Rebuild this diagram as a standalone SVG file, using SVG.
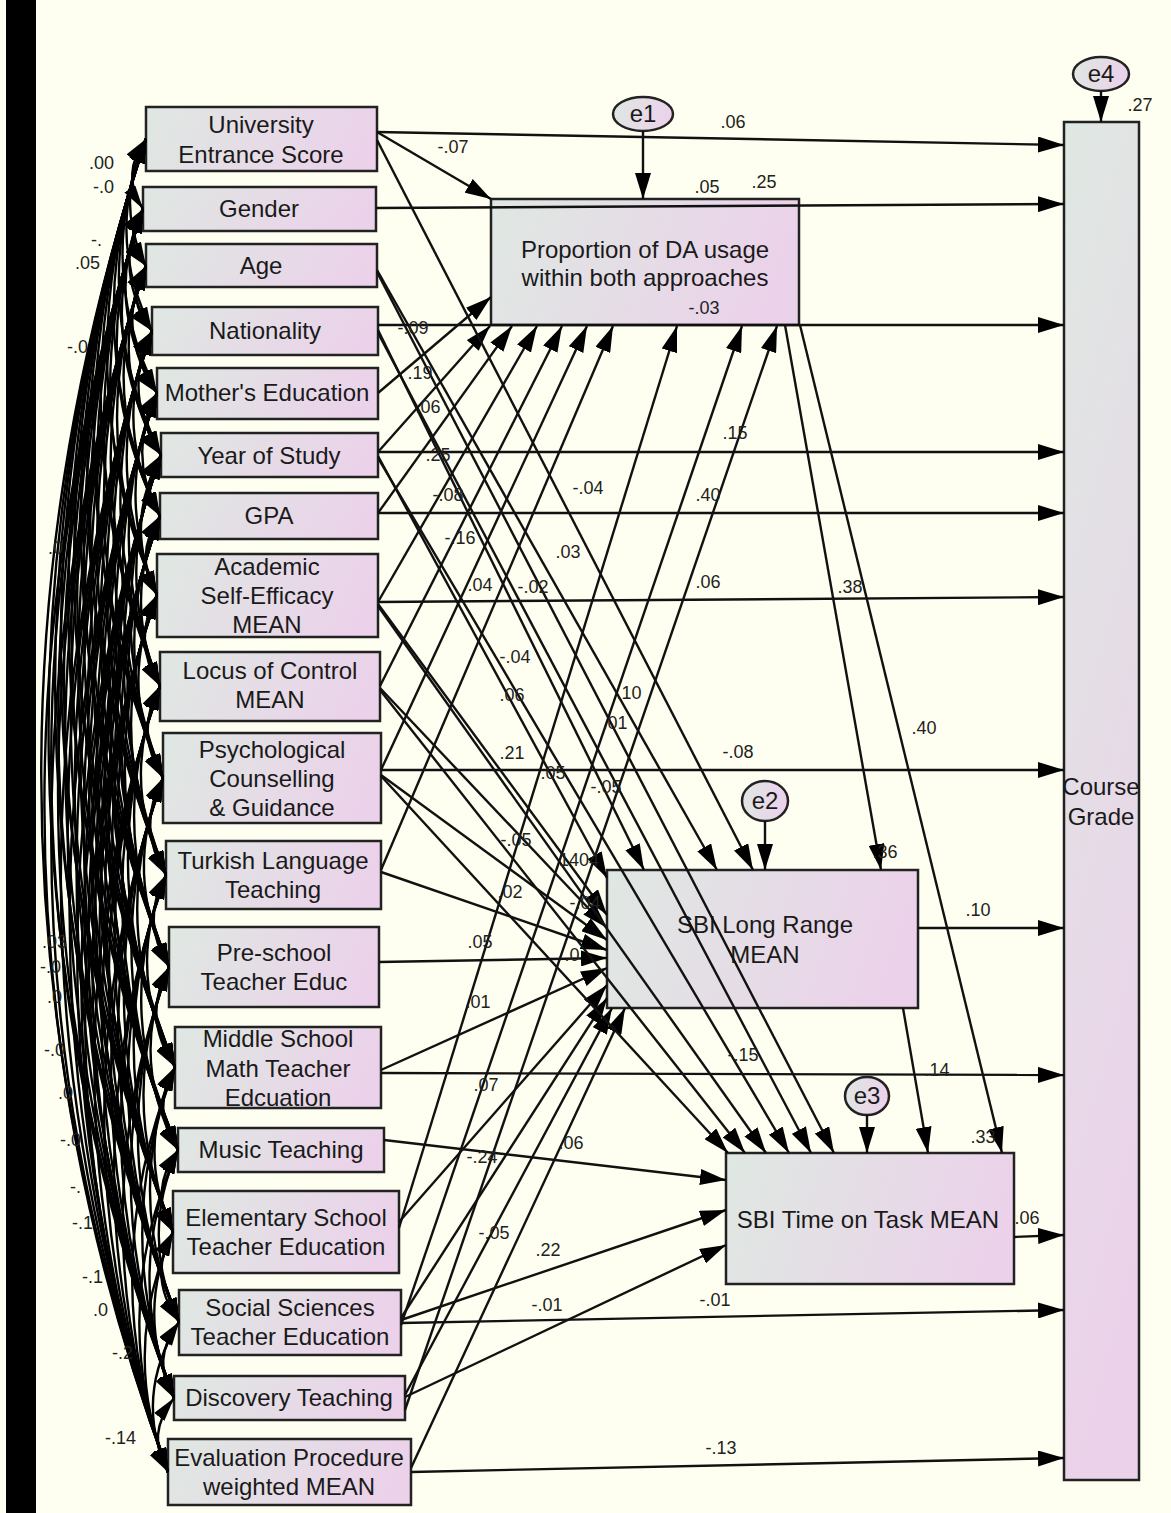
<svg xmlns="http://www.w3.org/2000/svg" width="1171" height="1513" viewBox="0 0 1171 1513">
<defs>
<linearGradient id="g" x1="0" y1="0" x2="1" y2="0.15"><stop offset="0" stop-color="#dfe8e2"/><stop offset="1" stop-color="#ebd2ea"/></linearGradient>
<linearGradient id="gv" x1="0" y1="0" x2="0.2" y2="1"><stop offset="0" stop-color="#dfe8e2"/><stop offset="1" stop-color="#ebd2ea"/></linearGradient>
<marker id="a" viewBox="0 0 26 16" refX="26" refY="8" markerWidth="26" markerHeight="16" markerUnits="userSpaceOnUse" orient="auto"><path d="M0,0 L26,8 L0,16 z" fill="#000"/></marker>
<marker id="c" viewBox="0 0 24 13" refX="24" refY="6.5" markerWidth="24" markerHeight="13" markerUnits="userSpaceOnUse" orient="auto-start-reverse"><path d="M0,0 L24,6.5 L0,13 z" fill="#000"/></marker>
</defs>
<style>
.n rect,.n ellipse{fill:url(#g);stroke:#222;stroke-width:2.5}
.n text{font-family:"Liberation Sans",Arial,sans-serif;font-size:24px;fill:#1a1a1a;text-anchor:middle}
.cv path{fill:none;stroke:#000;stroke-width:2.4;marker-start:url(#c);marker-end:url(#c)}
.ln line{stroke:#111;stroke-width:2.4;marker-end:url(#a)}
.lb text{font-family:"Liberation Sans",Arial,sans-serif;font-size:18px;fill:#222;text-anchor:middle}
.cl text{font-family:"Liberation Sans",Arial,sans-serif;font-size:18px;fill:#222}
</style>
<rect x="0" y="0" width="1171" height="1513" fill="#fefff0"/>
<rect x="6" y="0" width="30" height="1513" fill="#000"/>

<g id="n-ues" class="n"><rect x="146" y="107" width="231" height="64"/><text x="261" y="133">University</text><text x="261" y="163">Entrance Score</text></g>
<g id="n-gender" class="n"><rect x="143" y="187" width="233" height="44"/><text x="259" y="217">Gender</text></g>
<g id="n-age" class="n"><rect x="146" y="244" width="231" height="43"/><text x="261" y="274">Age</text></g>
<g id="n-nationality" class="n"><rect x="152" y="307" width="226" height="48"/><text x="265" y="339">Nationality</text></g>
<g id="n-mother" class="n"><rect x="157" y="368" width="221" height="51"/><text x="267" y="401">Mother's Education</text></g>
<g id="n-year" class="n"><rect x="161" y="433" width="217" height="44"/><text x="269" y="464">Year of Study</text></g>
<g id="n-gpa" class="n"><rect x="160" y="493" width="218" height="46"/><text x="269" y="524">GPA</text></g>
<g id="n-ase" class="n"><rect x="157" y="554" width="221" height="83"/><text x="267" y="575">Academic</text><text x="267" y="604">Self-Efficacy</text><text x="267" y="633">MEAN</text></g>
<g id="n-locus" class="n"><rect x="160" y="652" width="220" height="69"/><text x="270" y="679">Locus of Control</text><text x="270" y="708">MEAN</text></g>
<g id="n-pcg" class="n"><rect x="163" y="733" width="218" height="90"/><text x="272" y="758">Psychological</text><text x="272" y="787">Counselling</text><text x="272" y="816">&amp; Guidance</text></g>
<g id="n-turkish" class="n"><rect x="166" y="841" width="215" height="68"/><text x="273" y="869">Turkish Language</text><text x="273" y="898">Teaching</text></g>
<g id="n-preschool" class="n"><rect x="169" y="927" width="210" height="80"/><text x="274" y="961">Pre-school</text><text x="274" y="990">Teacher Educ</text></g>
<g id="n-middle" class="n"><rect x="175" y="1027" width="206" height="81"/><text x="278" y="1047">Middle School</text><text x="278" y="1077">Math Teacher</text><text x="278" y="1106">Edcuation</text></g>
<g id="n-music" class="n"><rect x="178" y="1128" width="206" height="44"/><text x="281" y="1158">Music Teaching</text></g>
<g id="n-elementary" class="n"><rect x="173" y="1191" width="226" height="82"/><text x="286" y="1226">Elementary School</text><text x="286" y="1255">Teacher Education</text></g>
<g id="n-social" class="n"><rect x="179" y="1290" width="222" height="65"/><text x="290" y="1316">Social Sciences</text><text x="290" y="1345">Teacher Education</text></g>
<g id="n-discovery" class="n"><rect x="174" y="1376" width="231" height="44"/><text x="289" y="1406">Discovery Teaching</text></g>
<g id="n-evaluation" class="n"><rect x="168" y="1439" width="243" height="66"/><text x="289" y="1466">Evaluation Procedure</text><text x="289" y="1495">weighted MEAN</text></g>
<g id="n-da" class="n"><rect x="491" y="199" width="308" height="126"/><text x="645" y="258">Proportion of DA usage</text><text x="645" y="286">within both approaches</text></g>
<g id="n-lr" class="n"><rect x="607" y="870" width="311" height="138"/><text x="765" y="933">SBI Long Range</text><text x="765" y="963">MEAN</text></g>
<g id="n-tot" class="n"><rect x="726" y="1153" width="288" height="131"/><text x="868" y="1228">SBI Time on Task MEAN</text></g>
<g id="n-cg" class="n"><rect x="1064" y="122" width="75" height="1358" style="fill:url(#gv)"/><text x="1101" y="795">Course</text><text x="1101" y="825">Grade</text></g>
<g id="n-e1" class="n"><ellipse cx="643" cy="114" rx="30" ry="17"/><text x="643" y="122">e1</text></g>
<g id="n-e2" class="n"><ellipse cx="765" cy="801" rx="23" ry="20"/><text x="765" y="809">e2</text></g>
<g id="n-e3" class="n"><ellipse cx="867" cy="1096" rx="22" ry="19"/><text x="867" y="1104">e3</text></g>
<g id="n-e4" class="n"><ellipse cx="1101" cy="74" rx="28" ry="17"/><text x="1101" y="82">e4</text></g>

<g id="connectors">
<g class="cv">
<path d="M146 139Q120 174 143 209"/><path d="M146 139Q114 203 146 266"/><path d="M146 139Q104 235 152 331"/><path d="M146 139Q94 266 157 393"/><path d="M146 139Q85 297 161 455"/><path d="M146 139Q75 328 160 516"/><path d="M146 139Q63 367 157 595"/><path d="M146 139Q49 413 160 686"/><path d="M146 139Q34 459 163 778"/><path d="M146 139Q19 507 166 875"/><path d="M146 139Q5 553 169 967"/><path d="M146 139Q-11 603 175 1067"/><path d="M146 139Q-24 645 178 1150"/><path d="M146 139Q-37 686 173 1232"/><path d="M146 139Q-51 731 179 1322"/><path d="M146 139Q-62 769 174 1398"/><path d="M146 139Q-74 806 168 1472"/>
<path d="M143 209Q122 238 146 266"/><path d="M143 209Q112 270 152 331"/><path d="M143 209Q102 301 157 393"/><path d="M143 209Q93 332 161 455"/><path d="M143 209Q83 363 160 516"/><path d="M143 209Q71 402 157 595"/><path d="M143 209Q57 448 160 686"/><path d="M143 209Q42 494 163 778"/><path d="M143 209Q27 542 166 875"/><path d="M143 209Q13 588 169 967"/><path d="M143 209Q-3 638 175 1067"/><path d="M143 209Q-16 680 178 1150"/><path d="M143 209Q-29 721 173 1232"/><path d="M143 209Q-43 766 179 1322"/><path d="M143 209Q-55 804 174 1398"/><path d="M143 209Q-66 841 168 1472"/>
<path d="M146 266Q124 299 152 331"/><path d="M146 266Q114 330 157 393"/><path d="M146 266Q105 361 161 455"/><path d="M146 266Q95 391 160 516"/><path d="M146 266Q83 431 157 595"/><path d="M146 266Q69 476 160 686"/><path d="M146 266Q54 522 163 778"/><path d="M146 266Q39 571 166 875"/><path d="M146 266Q25 617 169 967"/><path d="M146 266Q9 667 175 1067"/><path d="M146 266Q-4 708 178 1150"/><path d="M146 266Q-17 749 173 1232"/><path d="M146 266Q-31 794 179 1322"/><path d="M146 266Q-43 832 174 1398"/><path d="M146 266Q-54 869 168 1472"/>
<path d="M152 331Q130 362 157 393"/><path d="M152 331Q121 393 161 455"/><path d="M152 331Q111 424 160 516"/><path d="M152 331Q99 463 157 595"/><path d="M152 331Q85 509 160 686"/><path d="M152 331Q70 555 163 778"/><path d="M152 331Q55 603 166 875"/><path d="M152 331Q41 649 169 967"/><path d="M152 331Q25 699 175 1067"/><path d="M152 331Q12 741 178 1150"/><path d="M152 331Q-1 782 173 1232"/><path d="M152 331Q-15 827 179 1322"/><path d="M152 331Q-27 865 174 1398"/><path d="M152 331Q-38 902 168 1472"/>
<path d="M157 393Q135 424 161 455"/><path d="M157 393Q126 455 160 516"/><path d="M157 393Q114 494 157 595"/><path d="M157 393Q99 540 160 686"/><path d="M157 393Q85 586 163 778"/><path d="M157 393Q70 634 166 875"/><path d="M157 393Q55 680 169 967"/><path d="M157 393Q40 730 175 1067"/><path d="M157 393Q27 772 178 1150"/><path d="M157 393Q14 813 173 1232"/><path d="M157 393Q0 858 179 1322"/><path d="M157 393Q-12 896 174 1398"/><path d="M157 393Q-23 933 168 1472"/>
<path d="M161 455Q139 486 160 516"/><path d="M161 455Q123 525 157 595"/><path d="M161 455Q112 571 160 686"/><path d="M161 455Q99 617 163 778"/><path d="M161 455Q84 665 166 875"/><path d="M161 455Q69 711 169 967"/><path d="M161 455Q54 761 175 1067"/><path d="M161 455Q41 803 178 1150"/><path d="M161 455Q28 844 173 1232"/><path d="M161 455Q14 889 179 1322"/><path d="M161 455Q2 927 174 1398"/><path d="M161 455Q-10 964 168 1472"/>
<path d="M160 516Q133 556 157 595"/><path d="M160 516Q122 601 160 686"/><path d="M160 516Q107 647 163 778"/><path d="M160 516Q92 696 166 875"/><path d="M160 516Q78 742 169 967"/><path d="M160 516Q62 792 175 1067"/><path d="M160 516Q49 833 178 1150"/><path d="M160 516Q36 874 173 1232"/><path d="M160 516Q22 919 179 1322"/><path d="M160 516Q10 957 174 1398"/><path d="M160 516Q-1 994 168 1472"/>
<path d="M157 595Q131 641 160 686"/><path d="M157 595Q117 687 163 778"/><path d="M157 595Q101 735 166 875"/><path d="M157 595Q87 781 169 967"/><path d="M157 595Q71 831 175 1067"/><path d="M157 595Q58 873 178 1150"/><path d="M157 595Q46 914 173 1232"/><path d="M157 595Q32 959 179 1322"/><path d="M157 595Q20 997 174 1398"/><path d="M157 595Q8 1034 168 1472"/>
<path d="M160 686Q134 732 163 778"/><path d="M160 686Q119 781 166 875"/><path d="M160 686Q104 827 169 967"/><path d="M160 686Q89 877 175 1067"/><path d="M160 686Q76 918 178 1150"/><path d="M160 686Q63 959 173 1232"/><path d="M160 686Q49 1004 179 1322"/><path d="M160 686Q37 1042 174 1398"/><path d="M160 686Q25 1079 168 1472"/>
<path d="M163 778Q136 827 166 875"/><path d="M163 778Q122 873 169 967"/><path d="M163 778Q106 923 175 1067"/><path d="M163 778Q93 964 178 1150"/><path d="M163 778Q80 1005 173 1232"/><path d="M163 778Q66 1050 179 1322"/><path d="M163 778Q54 1088 174 1398"/><path d="M163 778Q43 1125 168 1472"/>
<path d="M166 875Q140 921 169 967"/><path d="M166 875Q124 971 175 1067"/><path d="M166 875Q111 1013 178 1150"/><path d="M166 875Q98 1054 173 1232"/><path d="M166 875Q84 1099 179 1322"/><path d="M166 875Q72 1137 174 1398"/><path d="M166 875Q61 1174 168 1472"/>
<path d="M169 967Q141 1017 175 1067"/><path d="M169 967Q128 1059 178 1150"/><path d="M169 967Q116 1100 173 1232"/><path d="M169 967Q102 1145 179 1322"/><path d="M169 967Q90 1183 174 1398"/><path d="M169 967Q77 1220 168 1472"/>
<path d="M175 1067Q150 1109 178 1150"/><path d="M175 1067Q135 1150 173 1232"/><path d="M175 1067Q123 1195 179 1322"/><path d="M175 1067Q110 1233 174 1398"/><path d="M175 1067Q93 1270 168 1472"/>
<path d="M178 1150Q148 1191 173 1232"/><path d="M178 1150Q139 1236 179 1322"/><path d="M178 1150Q123 1274 174 1398"/><path d="M178 1150Q106 1311 168 1472"/>
<path d="M173 1232Q147 1277 179 1322"/><path d="M173 1232Q135 1315 174 1398"/><path d="M173 1232Q119 1352 168 1472"/>
<path d="M179 1322Q150 1360 174 1398"/><path d="M179 1322Q133 1397 168 1472"/>
<path d="M174 1398Q145 1435 168 1472"/>
</g>
<g class="ln">
<line x1="377" y1="132" x2="1064" y2="145"/>
<line x1="376" y1="208" x2="1064" y2="204"/>
<line x1="378" y1="325" x2="1064" y2="325"/>
<line x1="378" y1="452" x2="1064" y2="452"/>
<line x1="378" y1="513" x2="1064" y2="513"/>
<line x1="378" y1="602" x2="1064" y2="597"/>
<line x1="381" y1="770" x2="1064" y2="770"/>
<line x1="918" y1="928" x2="1064" y2="928"/>
<line x1="381" y1="1073" x2="1064" y2="1075"/>
<line x1="1014" y1="1237" x2="1064" y2="1235"/>
<line x1="401" y1="1323" x2="1064" y2="1310"/>
<line x1="411" y1="1472" x2="1064" y2="1458"/>
<line x1="377" y1="132" x2="491" y2="199"/>
<line x1="378" y1="393" x2="491" y2="297"/>
<line x1="378" y1="452" x2="490" y2="326"/>
<line x1="378" y1="513" x2="512" y2="326"/>
<line x1="378" y1="602" x2="537" y2="326"/>
<line x1="380" y1="686" x2="562" y2="326"/>
<line x1="381" y1="770" x2="587" y2="326"/>
<line x1="381" y1="870" x2="613" y2="326"/>
<line x1="399" y1="1228" x2="677" y2="326"/>
<line x1="401" y1="1325" x2="742" y2="326"/>
<line x1="405" y1="1410" x2="777" y2="326"/>
<line x1="377" y1="140" x2="753" y2="870"/>
<line x1="377" y1="270" x2="717" y2="870"/>
<line x1="378" y1="330" x2="644" y2="870"/>
<line x1="378" y1="456" x2="607" y2="878"/>
<line x1="378" y1="604" x2="607" y2="915"/>
<line x1="380" y1="688" x2="607" y2="928"/>
<line x1="381" y1="775" x2="607" y2="940"/>
<line x1="381" y1="872" x2="607" y2="950"/>
<line x1="379" y1="962" x2="607" y2="958"/>
<line x1="381" y1="1070" x2="607" y2="968"/>
<line x1="399" y1="1222" x2="607" y2="985"/>
<line x1="401" y1="1318" x2="607" y2="998"/>
<line x1="405" y1="1395" x2="612" y2="1008"/>
<line x1="411" y1="1468" x2="625" y2="1008"/>
<line x1="785" y1="325" x2="881" y2="870"/>
<line x1="377" y1="272" x2="834" y2="1153"/>
<line x1="378" y1="333" x2="811" y2="1153"/>
<line x1="378" y1="458" x2="789" y2="1153"/>
<line x1="378" y1="606" x2="766" y2="1153"/>
<line x1="380" y1="690" x2="745" y2="1153"/>
<line x1="381" y1="776" x2="728" y2="1153"/>
<line x1="384" y1="1140" x2="726" y2="1180"/>
<line x1="401" y1="1320" x2="726" y2="1210"/>
<line x1="405" y1="1397" x2="726" y2="1245"/>
<line x1="903" y1="1008" x2="928" y2="1153"/>
<line x1="800" y1="325" x2="1002" y2="1153"/>
<line x1="643" y1="131" x2="643" y2="199"/>
<line x1="765" y1="821" x2="765" y2="870"/>
<line x1="867" y1="1115" x2="867" y2="1153"/>
<line x1="1101" y1="91" x2="1101" y2="122"/>
</g>
<g class="lb">
<text x="453" y="153">-.07</text><text x="733" y="128">.06</text><text x="707" y="193">.05</text><text x="764" y="188">.25</text>
<text x="704" y="314">-.03</text><text x="413" y="334">-.09</text><text x="420" y="379">.19</text><text x="428" y="413">.06</text>
<text x="438" y="461">.25</text><text x="448" y="501">-.08</text><text x="460" y="544">-.16</text><text x="735" y="439">.15</text>
<text x="588" y="494">-.04</text><text x="708" y="501">.40</text><text x="568" y="558">.03</text><text x="480" y="591">.04</text>
<text x="533" y="593">-.02</text><text x="708" y="588">.06</text><text x="850" y="593">.38</text><text x="515" y="663">-.04</text>
<text x="512" y="701">.06</text><text x="629" y="699">.10</text><text x="615" y="729">.01</text><text x="924" y="734">.40</text>
<text x="512" y="759">.21</text><text x="738" y="758">-.08</text><text x="553" y="779">.05</text><text x="606" y="793">-.05</text>
<text x="516" y="846">-.05</text><text x="885" y="858">.36</text><text x="579" y="866">1404</text><text x="510" y="898">.02</text>
<text x="585" y="909">-.04</text><text x="978" y="916">.10</text><text x="480" y="948">.05</text><text x="572" y="961">.0</text>
<text x="478" y="1008">.01</text><text x="743" y="1061">-.15</text><text x="937" y="1076">.14</text><text x="486" y="1091">.07</text>
<text x="983" y="1143">.33</text><text x="571" y="1149">.06</text><text x="482" y="1163">-.24</text><text x="1027" y="1224">.06</text>
<text x="494" y="1239">-.05</text><text x="548" y="1256">.22</text><text x="547" y="1311">-.01</text><text x="715" y="1306">-.01</text>
<text x="721" y="1454">-.13</text><text x="1140" y="111">.27</text>
</g>
<g class="cl">
<text x="89" y="169">.00</text><text x="93" y="193">-.0</text><text x="91" y="246">-.</text><text x="75" y="269">.05</text>
<text x="67" y="353">-.0</text><text x="48" y="554">.0</text><text x="42" y="948">.03</text><text x="40" y="973">-.0</text>
<text x="47" y="1003">.0</text><text x="44" y="1056">-.0</text><text x="58" y="1099">.0</text><text x="60" y="1146">-.0</text>
<text x="70" y="1193">-.</text><text x="72" y="1229">-.1</text><text x="82" y="1283">-.1</text><text x="93" y="1316">.0</text>
<text x="112" y="1359">-.2</text><text x="105" y="1444">-.14</text>
</g>
</g>
</svg>
